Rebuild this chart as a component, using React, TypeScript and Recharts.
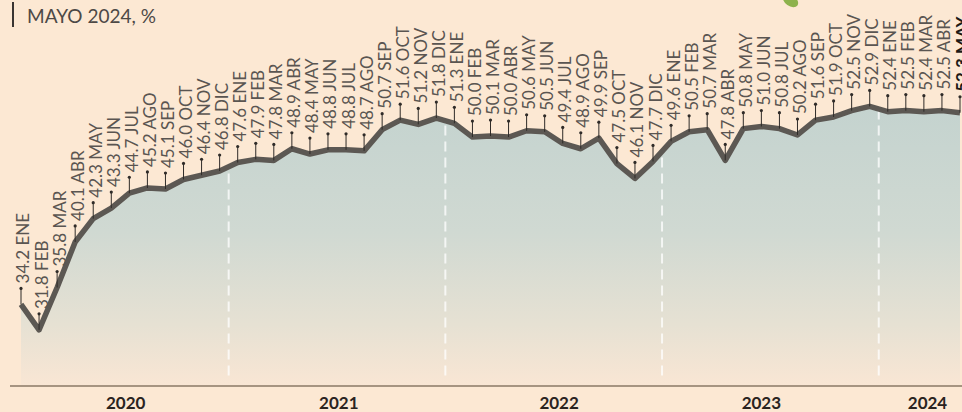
import { ComposedChart, Area, Line, XAxis, YAxis, ReferenceLine } from 'recharts'

const months = ['ENE', 'FEB', 'MAR', 'ABR', 'MAY', 'JUN', 'JUL', 'AGO', 'SEP', 'OCT', 'NOV', 'DIC']
const years = [2020, 2021, 2022, 2023, 2024]

const values2020 = [34.2, 31.8, 35.8, 40.1, 42.3, 43.3, 44.7, 45.2, 45.1, 46.0, 46.4, 46.8]
const values2021 = [47.6, 47.9, 47.8, 48.9, 48.4, 48.8, 48.8, 48.7, 50.7, 51.6, 51.2, 51.8]
const values2022 = [51.3, 50.0, 50.1, 50.0, 50.6, 50.5, 49.4, 48.9, 49.9, 47.5, 46.1, 47.7]
const values2023 = [49.6, 50.5, 50.7, 47.8, 50.8, 51.0, 50.8, 50.2, 51.6, 51.9, 52.5, 52.9]
const values2024 = [52.4, 52.5, 52.4, 52.5, 52.3]

// year label positions on the month index axis
const yearTicks = [5.8, 17.6, 29.8, 41, 50.2]

const allValues = [values2020, values2021, values2022, values2023, values2024]

const data = allValues.flatMap((vals, yi) =>
  vals.map((v, mi) => ({ i: yi * 12 + mi, value: v, label: `${v.toFixed(1)} ${months[mi]}`, year: years[yi] }))
)

// dashed separators between years, drawn up to the line
const separators = data
  .filter((d, idx) => idx > 0 && d.i % 12 === 0)
  .map(d => ({ x: d.i - 0.5, top: (data[d.i - 1].value + d.value) / 2 }))

const FONT = 'Lato, "Open Sans", sans-serif'

function PinLabel(props: any) {
  const { cx, cy, index, payload } = props
  if (cx == null || cy == null) return null
  const last = index === data.length - 1
  const dotY = cy - 16
  return (
    <g key={`pin-${index}`}>
      <line x1={cx} y1={cy} x2={cx} y2={dotY} stroke="#2f2b28" strokeWidth={1} />
      <circle cx={cx} cy={dotY} r={1.6} fill="#2f2b28" />
      <text
        x={cx + 8.5}
        y={dotY - 5}
        transform={`rotate(-90, ${cx + 8.5}, ${dotY - 5})`}
        textAnchor="start"
        fontSize={17}
        fontFamily={FONT}
        fontWeight={last ? 700 : 400}
        fill={last ? '#1e1a17' : '#5a5551'}
      >
        {payload.label}
      </text>
    </g>
  )
}

function YearTick(props: any) {
  const { x, y, payload, index } = props
  return (
    <text x={x} y={y + 15} textAnchor="middle" fontSize={17} fontWeight={700} fontFamily={FONT} fill="#2a2320">
      {years[index] ?? payload.value}
    </text>
  )
}

export default function App() {
  return (
    <div style={{ position: 'relative', width: 962, height: 412, background: '#fce8d3', overflow: 'hidden' }}>
      <style>{`body{margin:0}`}</style>
      <div style={{ position: 'absolute', left: 12, top: 2, width: 2, height: 25, background: '#3a3532' }} />
      <div
        style={{
          position: 'absolute',
          left: 27,
          top: 4,
          fontFamily: FONT,
          fontSize: 19,
          color: '#4d4946',
          whiteSpace: 'nowrap',
        }}
      >
        MAYO 2024, %
      </div>
      <div
        style={{
          position: 'absolute',
          left: 782,
          top: -5,
          width: 17,
          height: 11,
          borderRadius: '50%',
          background: '#8db24c',
          transform: 'rotate(35deg)',
        }}
      />
      <ComposedChart width={962} height={412} data={data} margin={{ top: 10, right: 0, bottom: 0, left: 10 }}>
        <defs>
          <linearGradient id="areaFill" x1="0" y1="0" x2="0" y2="1">
            <stop offset="0%" stopColor="#c4d3cf" />
            <stop offset="45%" stopColor="#d0d9d2" />
            <stop offset="78%" stopColor="#e6e1d3" />
            <stop offset="100%" stopColor="#f9e6d4" />
          </linearGradient>
        </defs>
        <XAxis
          dataKey="i"
          type="number"
          domain={[0, 52]}
          ticks={yearTicks}
          height={26}
          padding={{ left: 11, right: 2 }}
          axisLine={{ stroke: '#8a7866', strokeWidth: 1.5 }}
          tickLine={false}
          tick={<YearTick />}
          interval={0}
        />
        <YAxis hide domain={[26.5, 62]} />
        <Area
          type="linear"
          dataKey="value"
          stroke="none"
          fill="url(#areaFill)"
          fillOpacity={1}
          isAnimationActive={false}
        />
        {separators.map(s => (
          <ReferenceLine
            key={s.x}
            segment={[{ x: s.x, y: 27.5 }, { x: s.x, y: s.top }]}
            stroke="#ffffff"
            strokeOpacity={0.75}
            strokeWidth={2}
            strokeDasharray="10 6"
          />
        ))}
        <Line
          type="linear"
          dataKey="value"
          stroke="#5c5853"
          strokeWidth={5.5}
          strokeLinejoin="round"
          dot={<PinLabel />}
          activeDot={false}
          isAnimationActive={false}
        />
      </ComposedChart>
    </div>
  )
}
